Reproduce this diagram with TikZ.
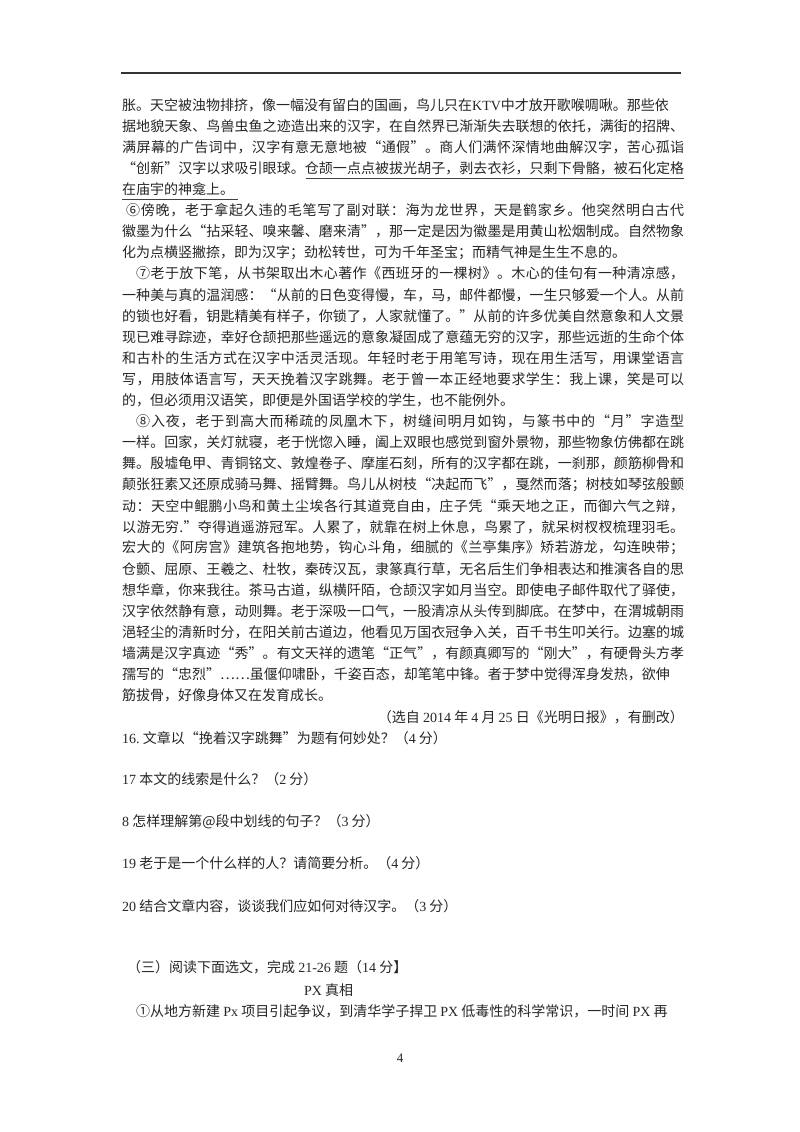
\documentclass[tikz,border=0pt]{standalone}
\usepackage{fontspec}
\setmainfont{Noto Sans CJK SC}
\newfontfamily\lat{Liberation Serif}
\newcommand\fs{\fontsize{14pt}{16pt}\selectfont}
\def\spr#1{\ifx#1\relax\else#1\hskip0pt plus 1fil\expandafter\spr\fi}
\tikzset{
  nl/.style={anchor=west, inner sep=0pt, font=\fs, text=black!85},
  uline/.style={line width=0.8pt, black!75}
}
\newcommand\jline[5]{\node[nl] (#1) at (#3,#2) {\hbox to #4pt{\spr#5\relax\unskip}};}
\begin{document}
\begin{tikzpicture}[x=1pt,y=-1pt]
\useasboundingbox (0,0) rectangle (800,1132);
\fill[white] (0,0) rectangle (800,1132);
\draw[line width=1.4pt, black!80] (121,73) -- (681,73);
\node[nl] (l1) at (122,105) {胀。天空被浊物排挤，像一幅没有留白的国画，鸟儿只在{\lat KTV}中才放开歌喉啁啾。那些依};
\jline{l2}{126.1}{122}{562}{据地貌天象、鸟兽虫鱼之迹造出来的汉字，在自然界已渐渐失去联想的依托，满街的招牌、}
\jline{l3}{147.2}{122}{562}{满屏幕的广告词中，汉字有意无意地被“通假”。商人们满怀深情地曲解汉字，苦心孤诣}
\jline{l4}{168.3}{122}{562}{“创新”汉字以求吸引眼球。仓颉一点点被拔光胡子，剥去衣衫，只剩下骨骼，被石化定格}
\node[nl] (l5) at (122,189.4) {在庙宇的神龛上。};
\draw[uline] (306,178) -- (684,178);
\draw[uline] (122,199) -- (238,199);
\jline{l6}{210.5}{126}{558}{⑥傍晚，老于拿起久违的毛笔写了副对联：海为龙世界，天是鹤家乡。他突然明白古代}
\jline{l7}{231.6}{122}{562}{徽墨为什么“拈采轻、嗅来馨、磨来清”，那一定是因为徽墨是用黄山松烟制成。自然物象}
\node[nl] (l8) at (122,252.7) {化为点横竖撇捺，即为汉字；劲松转世，可为千年圣宝；而精气神是生生不息的。};
\jline{l9}{273.8}{136}{548}{⑦老于放下笔，从书架取出木心著作《西班牙的一棵树》。木心的佳句有一种清凉感，}
\jline{l10}{294.9}{122}{562}{一种美与真的温润感：“从前的日色变得慢，车，马，邮件都慢，一生只够爱一个人。从前}
\jline{l11}{316}{122}{562}{的锁也好看，钥匙精美有样子，你锁了，人家就懂了。”从前的许多优美自然意象和人文景}
\jline{l12}{337.1}{122}{562}{现已难寻踪迹，幸好仓颉把那些遥远的意象凝固成了意蕴无穷的汉字，那些远逝的生命个体}
\jline{l13}{358.2}{122}{562}{和古朴的生活方式在汉字中活灵活现。年轻时老于用笔写诗，现在用生活写，用课堂语言}
\jline{l14}{379.3}{122}{562}{写，用肢体语言写，天天挽着汉字跳舞。老于曾一本正经地要求学生：我上课，笑是可以}
\node[nl] (l15) at (122,400.4) {的，但必须用汉语笑，即便是外国语学校的学生，也不能例外。};
\jline{l16}{421.5}{136}{548}{⑧入夜，老于到高大而稀疏的凤凰木下，树缝间明月如钩，与篆书中的“月”字造型}
\jline{l17}{442.6}{122}{562}{一样。回家，关灯就寝，老于恍惚入睡，阖上双眼也感觉到窗外景物，那些物象仿佛都在跳}
\jline{l18}{463.7}{122}{562}{舞。殷墟龟甲、青铜铭文、敦煌卷子、摩崖石刻，所有的汉字都在跳，一刹那，颜筋柳骨和}
\jline{l19}{484.8}{122}{562}{颠张狂素又还原成骑马舞、摇臂舞。鸟儿从树枝“决起而飞”，戛然而落；树枝如琴弦般颤}
\jline{l20}{505.9}{122}{562}{动：天空中鲲鹏小鸟和黄土尘埃各行其道竞自由，庄子凭“乘天地之正，而御六气之辩，}
\jline{l21}{527}{122}{562}{以游无穷.”夺得逍遥游冠军。人累了，就靠在树上休息，鸟累了，就呆树杈杈梳理羽毛。}
\jline{l22}{548.1}{122}{562}{宏大的《阿房宫》建筑各抱地势，钩心斗角，细腻的《兰亭集序》矫若游龙，勾连映带；}
\jline{l23}{569.2}{122}{562}{仓颤、屈原、王羲之、杜牧，秦砖汉瓦，隶篆真行草，无名后生们争相表达和推演各自的思}
\jline{l24}{590.3}{122}{562}{想华章，你来我往。茶马古道，纵横阡陌，仓颉汉字如月当空。即使电子邮件取代了驿使，}
\jline{l25}{611.4}{122}{562}{汉字依然静有意，动则舞。老于深吸一口气，一股清凉从头传到脚底。在梦中，在渭城朝雨}
\jline{l26}{632.5}{122}{562}{浥轻尘的清新时分，在阳关前古道边，他看见万国衣冠争入关，百千书生叩关行。边塞的城}
\jline{l27}{653.6}{122}{562}{墙满是汉字真迹“秀”。有文天祥的遗笔“正气”，有颜真卿写的“刚大”，有硬骨头方孝}
\jline{l28}{674.7}{122}{544}{孺写的“忠烈”……虽偃仰啸卧，千姿百态，却笔笔中锋。者于梦中觉得浑身发热，欲伸}
\node[nl] (l29) at (122,695.8) {筋拔骨，好像身体又在发育成长。};
\node[nl, anchor=east] (src) at (684,717) {（选自 {\lat 2014} 年 {\lat 4} 月 {\lat 25} 日《光明日报》，有删改）};
\node[nl] (q16) at (122,738) {{\lat 16.}\ 文章以“挽着汉字跳舞”为题有何妙处？（{\lat 4} 分）};
\node[nl] (q17) at (122,779) {{\lat 17} 本文的线索是什么？（{\lat 2} 分）};
\node[nl] (q18) at (122,822) {{\lat 8} 怎样理解第@段中划线的句子？（{\lat 3} 分）};
\node[nl] (q19) at (122,863) {{\lat 19} 老于是一个什么样的人？请简要分析。（{\lat 4} 分）};
\node[nl] (q20) at (122,906) {{\lat 20} 结合文章内容，谈谈我们应如何对待汉字。（{\lat 3} 分）};
\node[nl] (sec) at (127,967) {（三）阅读下面选文，完成 {\lat 21-26} 题（{\lat 14} 分】};
\node[nl] (title) at (304,990) {{\lat PX} 真相};
\node[nl] (p1) at (136,1011) {①从地方新建 {\lat Px} 项目引起争议，到清华学子捍卫 {\lat PX} 低毒性的科学常识，一时间 {\lat PX} 再};
\node[font=\lat\fontsize{13pt}{15pt}\selectfont, text=black!85] (pg) at (400,1058) {4};
\end{tikzpicture}
\end{document}
